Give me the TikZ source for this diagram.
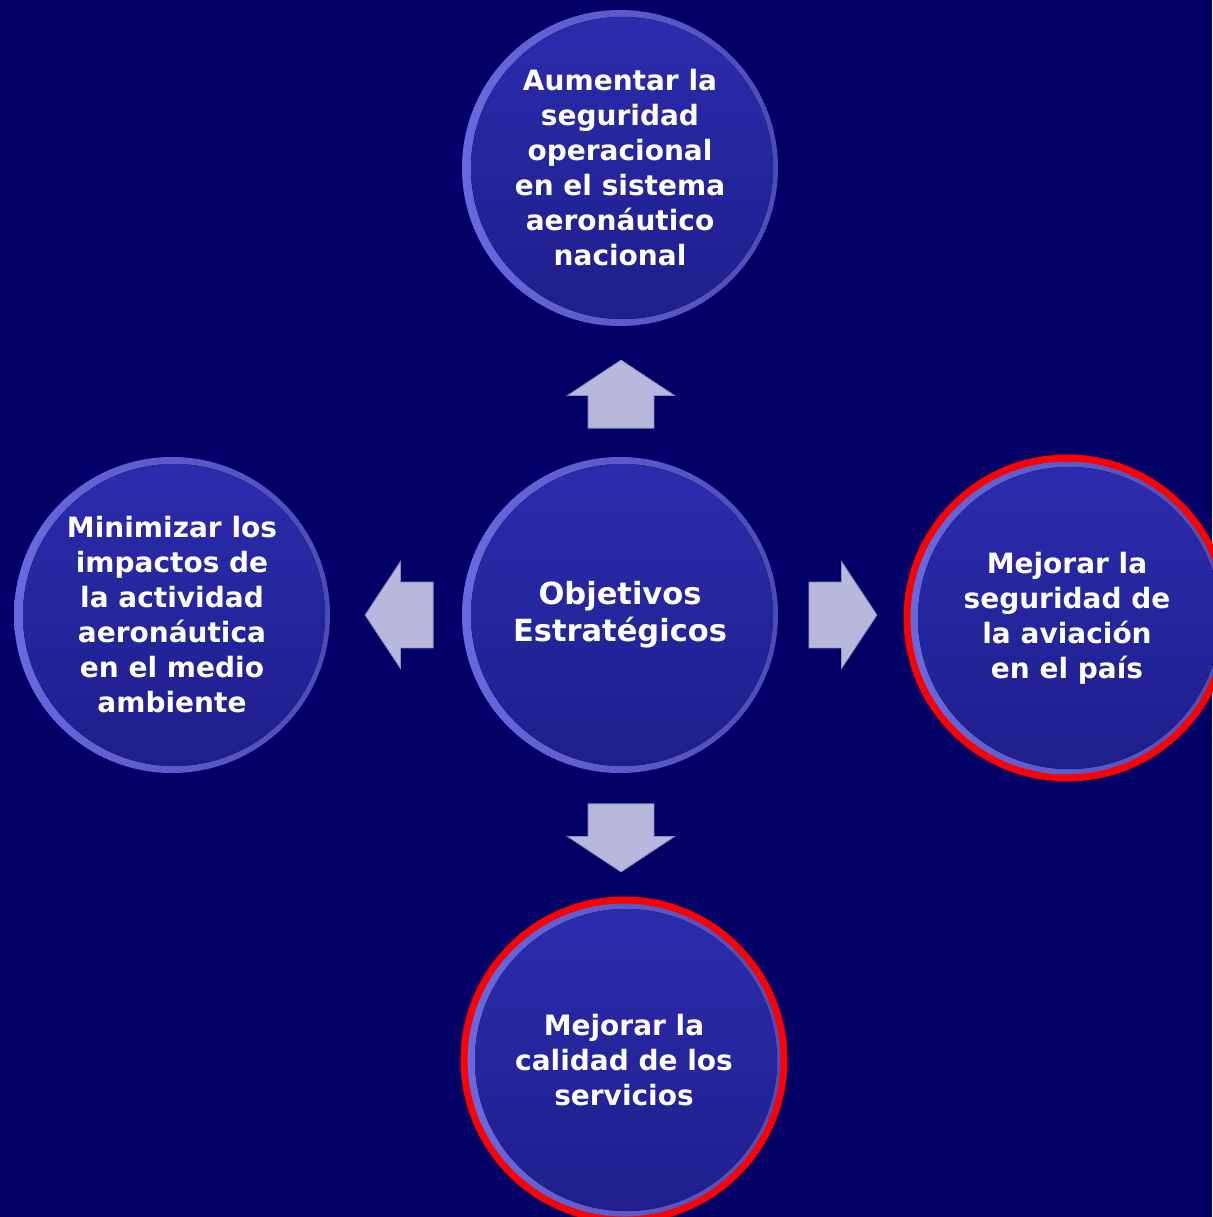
\documentclass[tikz,border=0pt]{standalone}
\usepackage{fontspec}
\setmainfont{DejaVu Sans}
\usepackage{tikz}
\usetikzlibrary{shapes.arrows}

\definecolor{fondo}{RGB}{0,0,102}
\definecolor{orbtop}{RGB}{44,44,174}
\definecolor{orbbot}{RGB}{30,30,140}
\definecolor{rimlight}{RGB}{104,104,224}
\definecolor{rimdark}{RGB}{34,34,120}
\definecolor{flecha}{RGB}{184,184,220}
\definecolor{flechaborde}{RGB}{140,140,190}

\begin{document}
\begin{tikzpicture}
        [x=1pt, y=-1pt,
        orb/.style={circle, minimum size=316pt, inner sep=0pt,
          left color=rimlight, right color=rimdark!40!rimlight,
          text=white, align=center,
          font=\fontsize{28}{35}\selectfont\bfseries,
          path picture={
            \fill[top color=orbtop, bottom color=orbbot]
              ([xshift=2pt]path picture bounding box.center) circle (151pt);}},
        marcado/.style={draw=red, line width=7pt, minimum size=320pt},
        flechabloque/.style={single arrow, draw=flechaborde, fill=flecha,
          line width=0.8pt, minimum height=68pt, minimum width=106pt,
          single arrow head extend=20.5pt, single arrow tip angle=113,
          inner sep=0pt, text height=32.5pt, text depth=32.5pt, text width=0pt}]
        \fill[fondo] (0,0) rectangle (1212,1217);
        \useasboundingbox (0,0) rectangle (1212,1217);
        % objetivos
        \node (centro) at (620,615) [orb, font=\fontsize{30.5}{37}\selectfont\bfseries] {Objetivos\\Estratégicos};
        \node (arriba) at (620,168) [orb] {Aumentar la\\seguridad\\operacional\\en el sistema\\aeronáutico\\nacional};
        \node (izq) at (172,615) [orb] {Minimizar los\\impactos de\\la actividad\\aeronáutica\\en el medio\\ambiente};
        \node (der) at (1067,618) [orb, marcado] {Mejorar la\\seguridad de\\la aviación\\en el país};
        \node (abajo) at (624,1060) [orb, marcado] {Mejorar la\\calidad de los\\servicios};
        % flechas
        \node (fArriba) at (621,405) [flechabloque, rotate=90] {};
        \node (fIzq) at (410,615) [flechabloque, rotate=180] {};
        \node (fDer) at (832,615) [flechabloque] {};
        \node (fAbajo) at (621,827) [flechabloque, rotate=-90] {};
\end{tikzpicture}
\end{document}
